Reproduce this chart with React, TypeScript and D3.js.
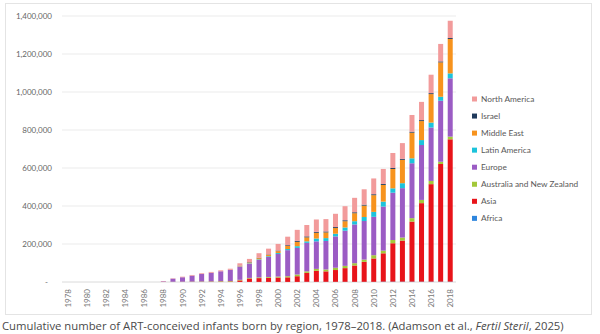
import React from "react";
import * as d3 from "d3";

const years = d3.range(1978, 2019);
const zeros10 = [0, 0, 0, 0, 0, 0, 0, 0, 0, 0];

// values in thousands, 1978..2018
const africa = [...zeros10, 0, 0, 0, 0, 0, 0, 0, 0, 0.5, 0.5, 0.5, 0.5, 0.5, 0.5, 0.5, 1, 1, 1, 1, 1, 1, 1, 1, 2, 2, 2, 2, 2, 2, 2, 2];
const asia = [...zeros10, 0, 0.5, 1, 1, 1, 1.5, 2, 2.5, 8, 18, 20, 22, 23, 24, 30, 47, 58, 55, 62, 72, 86, 105, 123, 149, 202, 216, 316, 413, 513, 619, 749];
const australiaNZ = [...zeros10, 0, 1, 1, 1.5, 2, 2, 2.5, 2.5, 3, 3, 4, 4, 5, 6, 9, 8, 10, 10, 12, 12, 12, 12, 17, 14, 17, 16, 18, 17, 17, 12, 14];
const europe = [...zeros10, 3, 16, 23, 31, 39, 45, 52, 59, 70, 75, 92, 105, 119, 137, 140, 150, 145, 150, 165, 185, 204, 203, 202, 232, 249, 260, 289, 289, 281, 321, 307];
const latinAmerica = [...zeros10, 0, 0, 0, 0, 0, 0, 0, 0, 1, 2, 3, 4, 5, 6, 9, 8, 15, 15, 14, 17, 17, 21, 26, 26, 23, 26, 26, 26, 26, 21, 26];
const middleEast = [...zeros10, 0, 0, 0, 0, 0, 0, 0, 0, 3, 4, 6, 8, 10, 16, 23, 21, 30, 30, 30, 33, 42, 60, 88, 88, 102, 123, 135, 100, 150, 181, 181];
const israel = [...zeros10, 0, 0, 0, 0, 0, 0, 0, 0, 1, 2, 2, 2, 3, 4, 5, 5, 5, 5, 5, 5, 5, 5, 5, 5, 5, 5, 5, 5, 5, 5, 5];
const northAmerica = [...zeros10, 2, 2, 3, 3.5, 4, 4.5, 5, 6, 12, 17, 24, 30, 35, 45, 58, 60, 65, 65, 70, 74, 76, 81, 83, 79, 79, 83, 88, 96, 97, 92, 91];

const regionNames = ["Africa", "Asia", "Australia and New Zealand", "Europe", "Latin America", "Middle East", "Israel", "North America"];
const regionSeries = [africa, asia, australiaNZ, europe, latinAmerica, middleEast, israel, northAmerica];
const regionColors = ["#2e86de", "#e8141a", "#a3c83a", "#9b5cc4", "#1cc3db", "#f7931e", "#1f3a5c", "#f29b9b"];
const yTicks = [0, 200000, 400000, 600000, 800000, 1000000, 1200000, 1400000];
const xTickYears = years.filter((y) => (y - 1978) % 2 === 0);

export default function App() {
  const rows = years.map((yr, i) => {
    const r: any = { year: yr };
    regionNames.forEach((n, k) => (r[n] = regionSeries[k][i] * 1000));
    return r;
  });
  const stacked = d3.stack().keys(regionNames)(rows);
  const x = d3.scalePoint<number>().domain(years).range([63, 455]).padding(0.5);
  const y = d3.scaleLinear().domain([0, 1400000]).range([282, 16]);
  const barW = 5;
  const fmt = d3.format(",");
  const font = "Lato, 'Open Sans', sans-serif";
  const legendOrder = [...regionNames].reverse();

  return (
    <svg width={600} height={334} style={{ position: "absolute", left: 0, top: 0, background: "#fff" }}>
      <rect x={5.5} y={3.5} width={586} height={311} fill="#fff" stroke="#e4e4e4" />
      {yTicks.map((t) => (
        <g key={t}>
          <line x1={62} x2={456} y1={y(t)} y2={y(t)} stroke={t === 0 ? "#d0d0d0" : "#e6e6e6"} strokeWidth={0.8} />
          <text x={t === 0 ? 48 : 52} y={y(t)} dy="0.35em" textAnchor="end" fontSize={8} fill="#666" fontFamily={font}>
            {t === 0 ? "-" : fmt(t)}
          </text>
        </g>
      ))}
      {stacked.map((s, k) => (
        <g key={s.key} fill={regionColors[k]}>
          {s.map((d, i) => {
            const h = y(d[0]) - y(d[1]);
            if (h <= 0) return null;
            return <rect key={i} x={(x(years[i]) as number) - barW / 2} y={y(d[1])} width={barW} height={h} />;
          })}
        </g>
      ))}
      {xTickYears.map((yr) => (
        <text
          key={yr}
          transform={`translate(${(x(yr) as number) + 3},289) rotate(-90)`}
          textAnchor="end"
          fontSize={8}
          fill="#777"
          fontFamily={font}
        >
          {yr}
        </text>
      ))}
      {legendOrder.map((n, i) => {
        const k = regionNames.indexOf(n);
        const cy = 99 + i * 17.05;
        return (
          <g key={n}>
            <rect x={472} y={cy - 2.5} width={5} height={5} fill={regionColors[k]} />
            <text x={481} y={cy} dy="0.35em" fontSize={8.3} fill="#595959" fontFamily={font}>
              {n}
            </text>
          </g>
        );
      })}
      <text x={2} y={330} fontSize={11.3} fill="#4a4a4a" fontFamily="'Open Sans', sans-serif">
        Cumulative number of ART-conceived infants born by region, 1978–2018. (Adamson et al.,{" "}
        <tspan fontStyle="italic">Fertil Steril</tspan>, 2025)
      </text>
    </svg>
  );
}
